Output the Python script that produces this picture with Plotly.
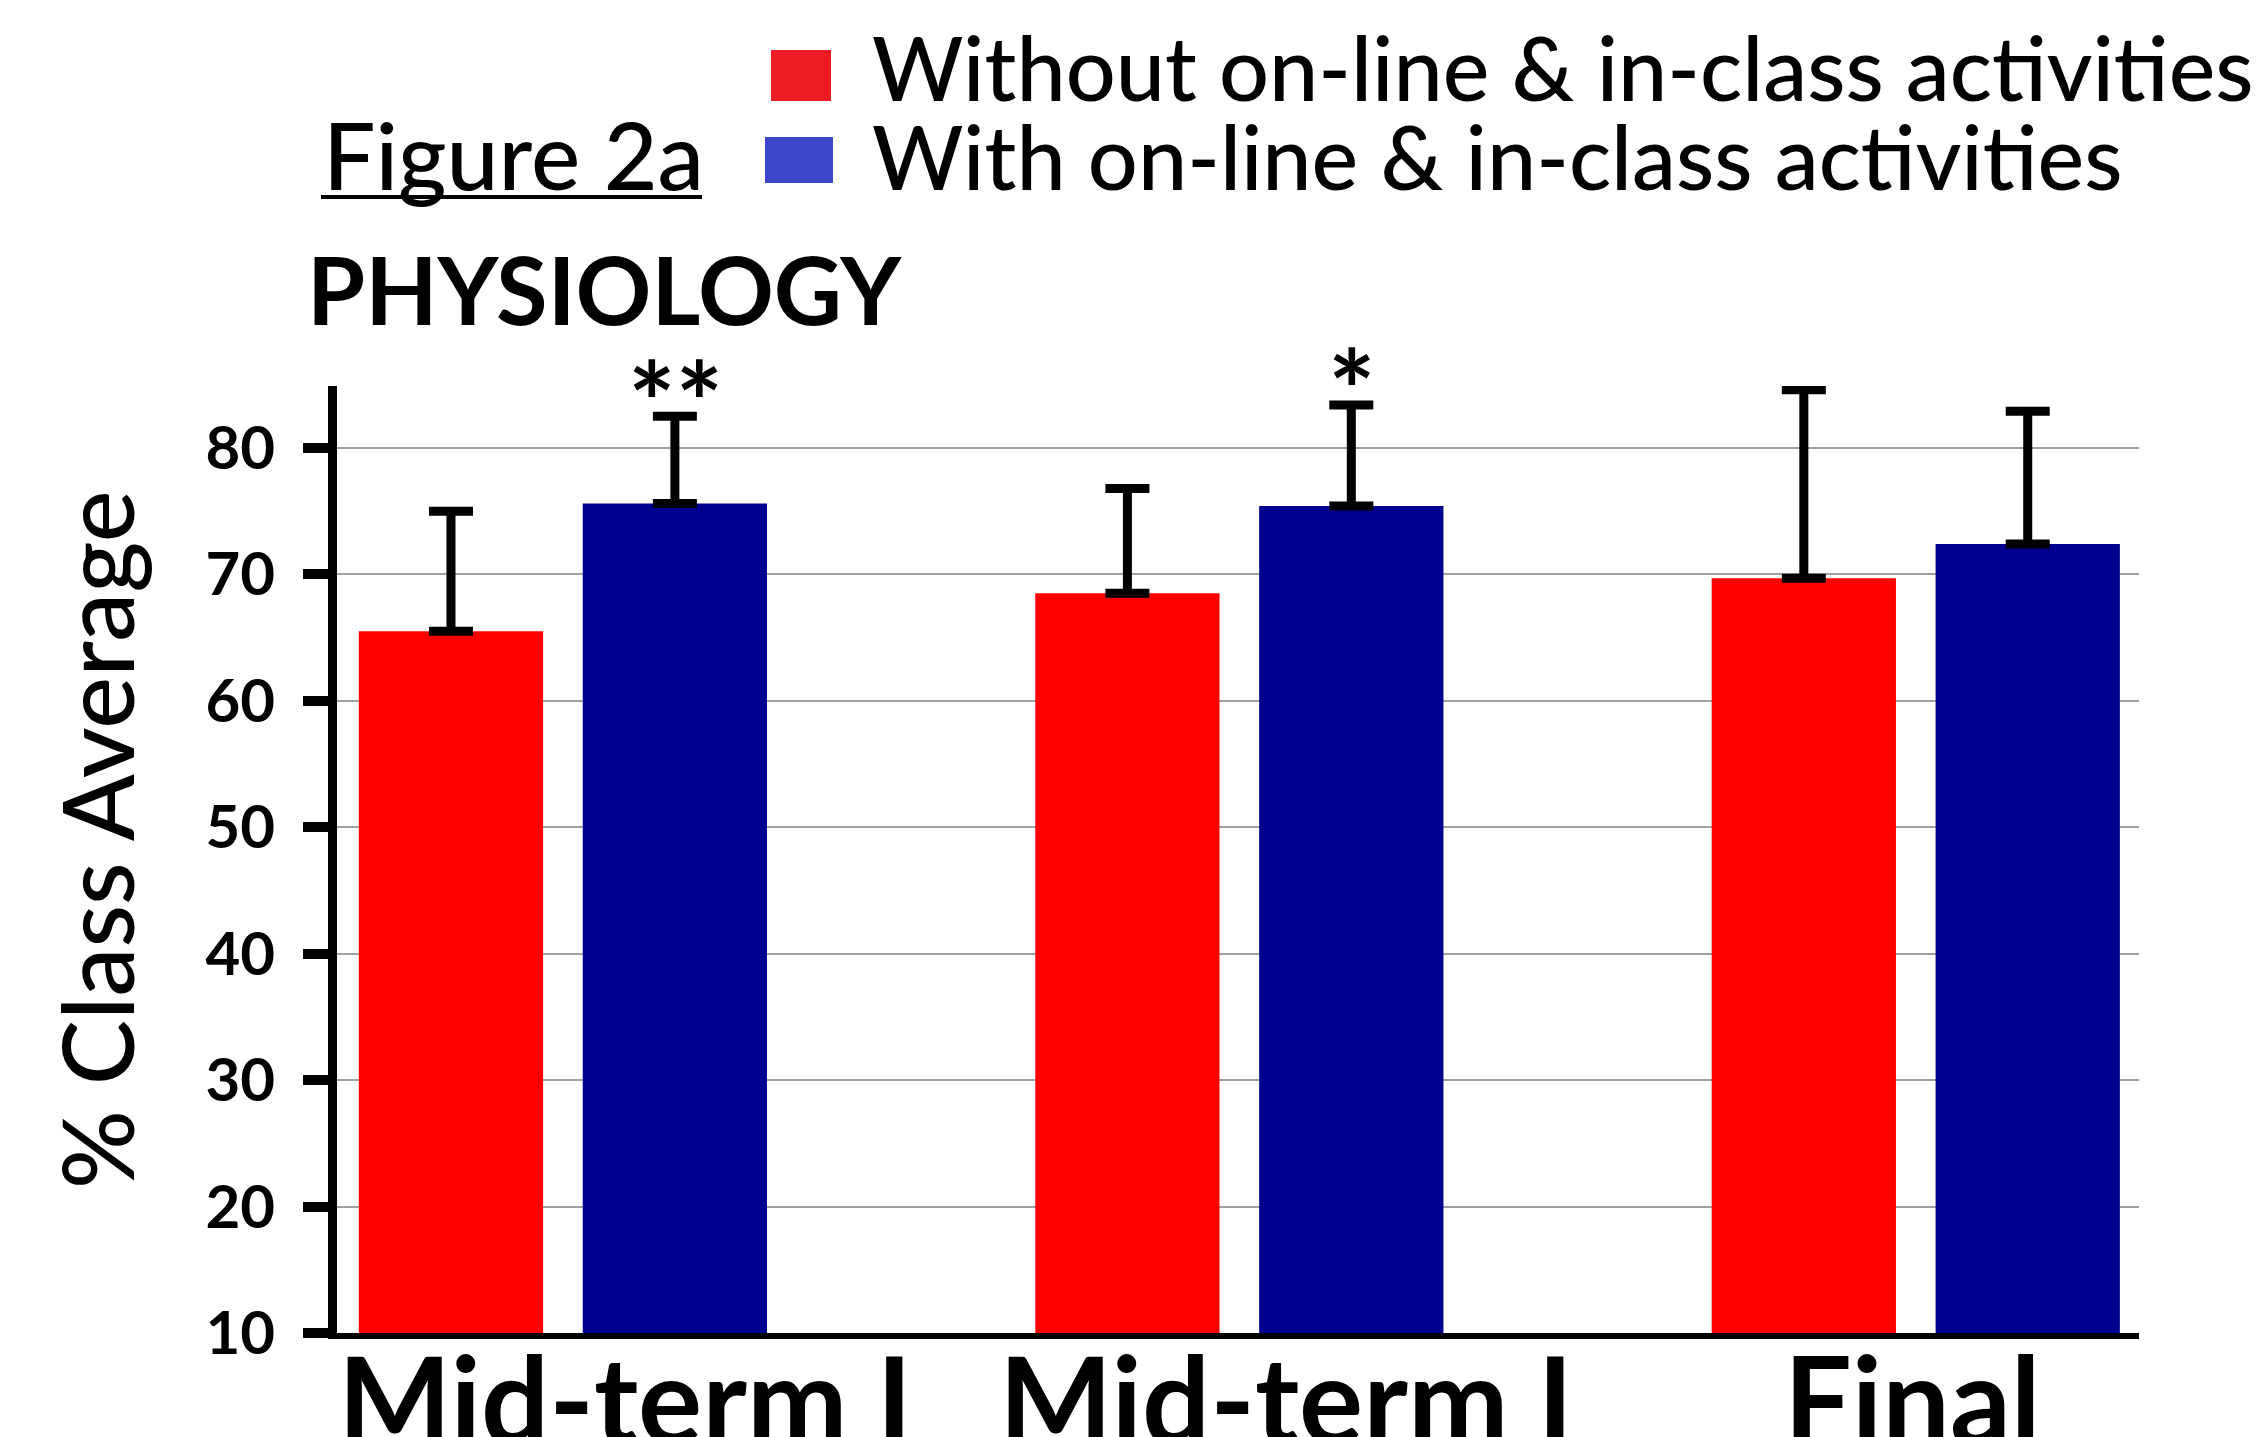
import plotly.graph_objects as go

# Exam scores (% class average) with upper error bars
exams = ["Mid-term I", "Mid-term I", "Final"]
without_avg = [65.5, 68.5, 69.7]
without_err = [9.5, 8.3, 14.9]
with_avg = [75.6, 75.4, 72.4]
with_err = [6.9, 8.0, 10.5]
significance = ["**", "*", ""]
series_names = ["Without on-line & in-class activities",
                "With on-line & in-class activities"]
y_ticks = [10, 20, 30, 40, 50, 60, 70, 80]

FONT = "Lato"
W_FIG, H_FIG = 2259, 1437
L, R, T, B = 337, 120, 386, 104
PW = W_FIG - L - R
PH = H_FIG - T - B


def px(x):
    """Figure pixel x -> paper coordinate."""
    return (x - L) / PW


def py(y):
    """Figure pixel y (from top) -> paper coordinate."""
    return (H_FIG - B - y) / PH


idx = list(range(len(exams)))
err_style = dict(type="data", symmetric=False, color="black", thickness=9, width=22)

fig = go.Figure()
fig.add_trace(go.Bar(
    x=idx, y=without_avg, name=series_names[0],
    marker=dict(color="#FF0000", line=dict(width=0)),
    error_y=dict(array=without_err, arrayminus=[0] * len(idx), **err_style),
))
fig.add_trace(go.Bar(
    x=idx, y=with_avg, name=series_names[1],
    marker=dict(color="#000090", line=dict(width=0)),
    error_y=dict(array=with_err, arrayminus=[0] * len(idx), **err_style),
))

annotations = []

# significance markers above the "with" bars
for i, mark in enumerate(significance):
    if mark:
        annotations.append(dict(
            x=i + 0.166, y=with_avg[i] + with_err[i], xref="x", yref="y",
            text="<b>%s</b>" % mark, showarrow=False, yanchor="middle", yshift=16,
            font=dict(family=FONT, size=112, color="black"),
        ))

# large category labels under each group
label_shift = [62, 47, -3]
for i, name in enumerate(exams):
    annotations.append(dict(
        x=i, y=0, xref="x", yref="paper", text="<b>%s</b>" % name,
        showarrow=False, xanchor="center", yanchor="top", xshift=label_shift[i],
        yshift=9, font=dict(family=FONT, size=120, color="black"),
    ))

# titles
annotations.append(dict(
    x=px(321), y=py(154), xref="paper", yref="paper", text="Figure 2a",
    showarrow=False, xanchor="left", yanchor="middle",
    font=dict(family=FONT, size=93, color="black", weight=500),
))
annotations.append(dict(
    x=px(305), y=py(288), xref="paper", yref="paper", text="<b>PHYSIOLOGY</b>",
    showarrow=False, xanchor="left", yanchor="middle",
    font=dict(family=FONT, size=94, color="black"),
))
annotations.append(dict(
    x=px(96), y=py(840), xref="paper", yref="paper", text="% Class Average",
    showarrow=False, xanchor="center", yanchor="middle", textangle=-90,
    font=dict(family=FONT, size=98, color="black", weight=500),
))

# legend entries
legend_rows = [
    dict(color="#ED1C24", x0=771, x1=831, y0=50, y1=101, ty=67),
    dict(color="#3F48CC", x0=765, x1=833, y0=137, y1=183, ty=156),
]
shapes = []
for row, name in zip(legend_rows, series_names):
    shapes.append(dict(
        type="rect", xref="paper", yref="paper",
        x0=px(row["x0"]), x1=px(row["x1"]), y0=py(row["y1"]), y1=py(row["y0"]),
        fillcolor=row["color"], line=dict(width=0),
    ))
    annotations.append(dict(
        x=px(870), y=py(row["ty"]), xref="paper", yref="paper", text=name,
        showarrow=False, xanchor="left", yanchor="middle",
        font=dict(family=FONT, size=88, color="black", weight=500),
    ))

# underline for the figure label
shapes.append(dict(
    type="line", xref="paper", yref="paper",
    x0=px(321), x1=px(702), y0=py(197), y1=py(197),
    line=dict(color="black", width=4),
))

fig.update_layout(
    width=W_FIG, height=H_FIG, autosize=False,
    margin=dict(l=L, r=R, t=T, b=B),
    paper_bgcolor="white", plot_bgcolor="white",
    barmode="group", bargap=0.338, bargroupgap=0.177,
    showlegend=False,
    annotations=annotations, shapes=shapes,
    font=dict(family=FONT, color="black"),
)
fig.update_xaxes(
    range=[-0.334, 2.330], showticklabels=False, showgrid=False,
    zeroline=False, showline=True, linecolor="black", linewidth=6, ticks="",
)
fig.update_yaxes(
    range=[10, 84.9], tickvals=y_ticks, ticktext=[str(v) for v in y_ticks],
    showline=True, linecolor="black", linewidth=9,
    ticks="outside", ticklen=25, tickwidth=10, tickcolor="black",
    ticklabelstandoff=16,
    showgrid=True, gridcolor="#a0a0a0", gridwidth=2, zeroline=False,
    tickfont=dict(family=FONT, size=60, color="black", weight="bold"),
)

fig.write_html("out.html")
